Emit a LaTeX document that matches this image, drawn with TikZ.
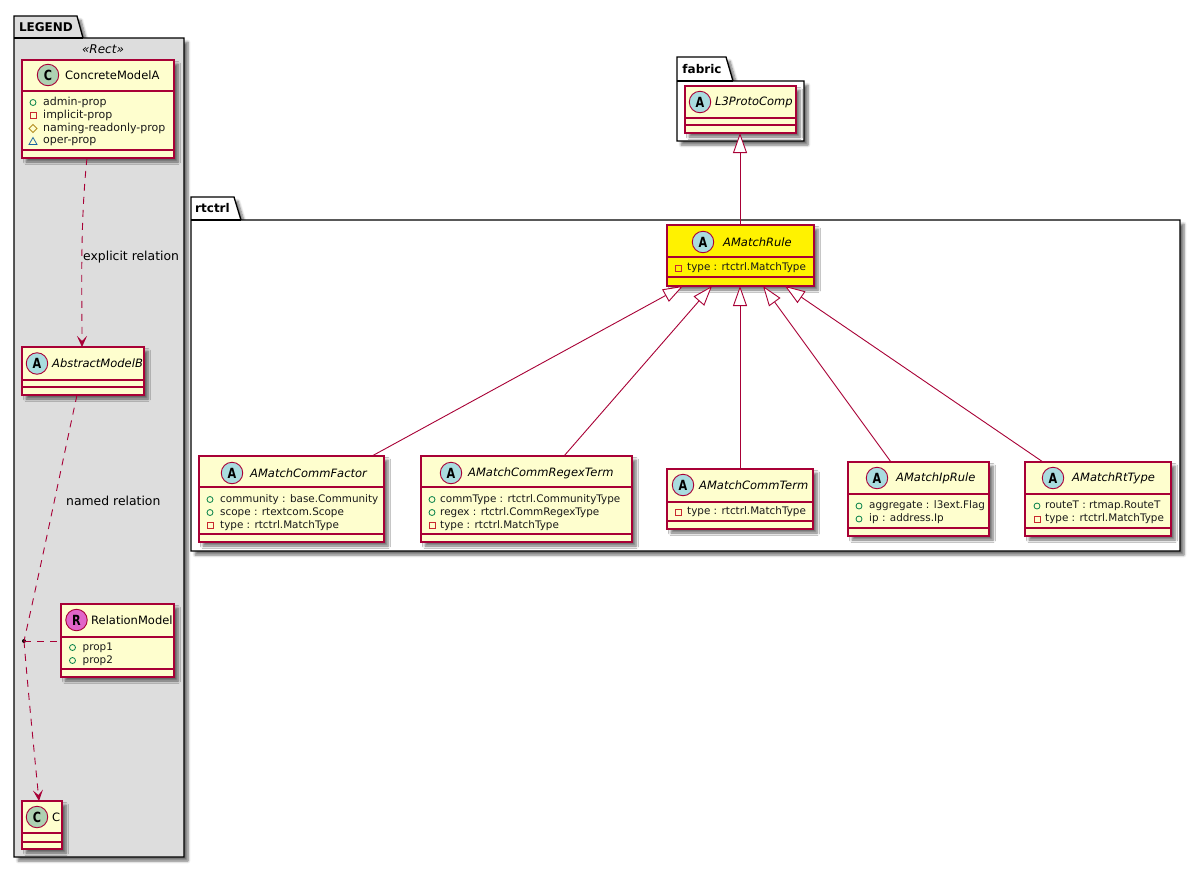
\documentclass[tikz,border=0pt]{standalone}
\usepackage{fontspec}
\setmainfont{DejaVu Sans}
\usetikzlibrary{arrows.meta,shadows.blur,calc}
\definecolor{umlred}{HTML}{A80036}
\definecolor{umlbg}{HTML}{FEFECE}
\definecolor{iconC}{HTML}{ADD1B2}
\definecolor{iconA}{HTML}{A9DCDF}
\definecolor{iconR}{HTML}{E065C8}
\definecolor{pubc}{HTML}{038048}
\definecolor{privc}{HTML}{C82930}
\definecolor{protc}{HTML}{B38D22}
\definecolor{pkgc}{HTML}{1963A0}
\newcount\attrcount
\newcommand{\wider}[1]{{\fontsize{11}{13}\selectfont #1}}
\tikzset{
  softshadow/.style={blur shadow={shadow xshift=4pt,shadow yshift=-4pt,shadow blur steps=6,shadow blur radius=2.5pt,shadow opacity=55}},
  classbox/.style={draw=umlred,line width=1.1pt,inner sep=0pt,outer sep=0pt,softshadow},
  sepline/.style={draw=umlred,line width=1.1pt},
  iconnode/.style={circle,draw=umlred,line width=.9pt,minimum size=21.5pt,inner sep=0pt,font=\fontsize{14}{14}\bfseries},
  titletext/.style={anchor=west,inner sep=0pt,font=\fontsize{11.5}{13}\selectfont},
  attrtext/.style={anchor=west,inner sep=0pt,font=\fontsize{10.4}{12}\selectfont,text=black!90},
  pkgbox/.style={draw=black,line width=1.3pt,line join=miter,softshadow},
  pkglabel/.style={inner sep=0pt,font=\fontsize{12}{14}\bfseries},
  inherit/.style={draw=umlred,line width=.9pt,-{Triangle[length=20pt,width=14pt,fill=white,line width=.9pt]}},
  relation/.style={draw=umlred,line width=.9pt,dash pattern=on 7pt off 6pt},
  dashedarrow/.style={relation,-{Stealth[length=11pt,width=10pt,inset=5pt]}},
  edgelabel/.style={anchor=west,inner sep=0pt,font=\fontsize{12.4}{14}\selectfont},
}
% #1 name, #2 x1, #3 y1, #4 x2, #5 y2, #6 fill, #7 sep1, #8 sep2
\newcommand{\classnode}[8]{%
  \pgfmathsetmacro{\cw}{#4-#2}\pgfmathsetmacro{\ch}{#5-#3}%
  \node[classbox,fill=#6,anchor=north west,minimum width=\cw pt,minimum height=\ch pt] (#1) at (#2,#3) {};
  \draw[sepline] (#2,#7) -- (#4,#7) (#2,#8) -- (#4,#8);
}
% #1 name, #2 icon x, #3 y, #4 colour, #5 letter, #6 text x, #7 text
\newcommand{\classhead}[7]{%
  \node[iconnode,fill=#4] (#1-icon) at (#2,#3) {\scalebox{.8}[1]{#5}};
  \node[titletext] (#1-title) at (#6,#3) {#7};
}
\newcommand{\iconpub}[2]{\draw[pubc,line width=.8pt] (#1,#2) circle (3pt);}
\newcommand{\iconpriv}[2]{\draw[privc,line width=.8pt] (#1-3,#2-3) rectangle (#1+3,#2+3);}
\newcommand{\iconprot}[2]{\draw[protc,line width=.8pt] (#1-4,#2) -- (#1,#2-4) -- (#1+4,#2) -- (#1,#2+4) -- cycle;}
\newcommand{\iconpkg}[2]{\draw[pkgc,line width=.8pt] (#1-4,#2+3) -- (#1+4,#2+3) -- (#1,#2-4) -- cycle;}
% #1 icon macro, #2 icon x, #3 text x, #4 y, #5 text
\newcommand{\attr}[5]{%
  #1{#2}{#4}\global\advance\attrcount by 1
  \node[attrtext] (attr\the\attrcount) at (#3,#4) {#5};
}
\begin{document}
\begin{tikzpicture}[x=1pt,y=-1pt]
\useasboundingbox (0,0) rectangle (1200,868);
% packages
\path[pkgbox,fill=black!13.5] (14,38) -- (14,16) -- (77,16) -- (83,38) -- (184,38) -- (184,857) -- (14,857) -- cycle;
\draw[black,line width=1.3pt] (14,38) -- (83,38);
\node[pkglabel] (legendlabel) at (46,27.5) {LEGEND};
\node[inner sep=0pt,font=\fontsize{12}{14}\itshape] (legendstereo) at (103,49.5) {«Rect»};
\path[pkgbox,fill=white] (677,81) -- (677,57) -- (726,57) -- (733,81) -- (804,81) -- (804,141) -- (677,141) -- cycle;
\draw[black,line width=1.3pt] (677,81) -- (733,81);
\node[pkglabel] (fabriclabel) at (702,69.5) {fabric};
\path[pkgbox,fill=white] (191,220) -- (191,197) -- (234,197) -- (241,220) -- (1180,220) -- (1180,551) -- (191,551) -- cycle;
\draw[black,line width=1.3pt] (191,220) -- (241,220);
\node[pkglabel] (rtctrllabel) at (212.5,208.5) {rtctrl};
% classes
\classnode{modela}{22}{60}{174}{158}{umlbg}{91}{150}
\classhead{modela}{48}{75}{iconC}{C}{65}{ConcreteModelA}
\attr{\iconpub}{33}{43}{102.5}{\wider{admin-prop}}
\attr{\iconpriv}{33}{43}{115.5}{\wider{implicit-prop}}
\attr{\iconprot}{33}{43}{128.5}{\wider{naming-readonly-prop}}
\attr{\iconpkg}{33}{43}{141.5}{\wider{oper-prop}}
\classnode{modelb}{22}{347}{144}{395}{umlbg}{380}{387}
\classhead{modelb}{37}{363.5}{iconA}{A}{52}{\itshape AbstractModelB}
\classnode{relmodel}{61}{604}{174}{677}{umlbg}{637}{669}
\classhead{relmodel}{76.5}{620}{iconR}{R}{91}{RelationModel}
\attr{\iconpub}{72.5}{82.5}{647.5}{prop1}
\attr{\iconpub}{72.5}{82.5}{660.5}{prop2}
\classnode{cbox}{22}{801}{62}{849}{umlbg}{833}{842}
\classhead{cbox}{37}{817}{iconC}{C}{52}{C}
\classnode{l3proto}{685}{86}{796}{133}{umlbg}{118}{125}
\classhead{l3proto}{700}{102}{iconA}{A}{715}{\itshape L3ProtoComp}
\classnode{rule}{667}{225}{814}{286}{yellow}{257}{277}
\classhead{rule}{703}{242}{iconA}{A}{723}{\itshape AMatchRule}
\attr{\iconpriv}{678}{687}{268}{type : rtctrl.MatchType}
\classnode{factor}{199}{456}{384}{542}{umlbg}{487}{534}
\classhead{factor}{232}{473}{iconA}{A}{250}{\itshape AMatchCommFactor}
\attr{\iconpub}{210}{220}{499.5}{community : base.Community}
\attr{\iconpub}{210}{220}{512.5}{scope : rtextcom.Scope}
\attr{\iconpriv}{210}{220}{525.5}{type : rtctrl.MatchType}
\classnode{regex}{421}{456}{632}{542}{umlbg}{487}{534}
\classhead{regex}{451}{473}{iconA}{A}{468}{\itshape AMatchCommRegexTerm}
\attr{\iconpub}{432}{440}{499.5}{commType : rtctrl.CommunityType}
\attr{\iconpub}{432}{440}{512.5}{regex : rtctrl.CommRegexType}
\attr{\iconpriv}{432}{440}{525.5}{type : rtctrl.MatchType}
\classnode{commterm}{667}{469}{813}{529}{umlbg}{502}{521}
\classhead{commterm}{683}{485}{iconA}{A}{699}{\itshape AMatchCommTerm}
\attr{\iconpriv}{678}{687}{512}{type : rtctrl.MatchType}
\classnode{iprule}{848}{462}{989}{536}{umlbg}{494}{528}
\classhead{iprule}{877}{478}{iconA}{A}{896}{\itshape AMatchIpRule}
\attr{\iconpub}{859}{869}{506}{aggregate : l3ext.Flag}
\attr{\iconpub}{859}{869}{519}{ip : address.Ip}
\classnode{rttype}{1025}{462}{1171}{536}{umlbg}{494}{528}
\classhead{rttype}{1053}{478}{iconA}{A}{1072}{\itshape AMatchRtType}
\attr{\iconpub}{1037}{1045}{506}{routeT : rtmap.RouteT}
\attr{\iconpriv}{1037}{1045}{519}{type : rtctrl.MatchType}
% connectors
\draw[inherit] ([xshift=73pt]rule.north west) -- ([xshift=55pt]l3proto.south west);
\draw[inherit] ([xshift=173pt]factor.north west) -- ([xshift=16pt]rule.south west);
\draw[inherit] ([xshift=143pt]regex.north west) -- ([xshift=45pt]rule.south west);
\draw[inherit] ([xshift=73pt]commterm.north west) -- ([xshift=73pt]rule.south west);
\draw[inherit] ([xshift=43pt]iprule.north west) -- ([xshift=96pt]rule.south west);
\draw[inherit] ([xshift=18pt]rttype.north west) -- ([xshift=118pt]rule.south west);
\node[circle,fill=black,minimum size=4pt,inner sep=0pt] (reldot) at (24,641) {};
\draw[dashedarrow] ([xshift=65pt]modela.south west) .. controls (80,225) and (82,290) .. ([xshift=60pt]modelb.north west);
\draw[relation] ([xshift=55pt]modelb.south west) .. controls (64,455) and (40,570) .. (reldot.center);
\draw[dashedarrow] (reldot.center) .. controls (28,690) and (34,750) .. ([xshift=17pt]cbox.north west);
\draw[relation] (reldot.center) -- (relmodel.west |- reldot);
\node[edgelabel] (explicitlabel) at (83,257) {explicit relation};
\node[edgelabel] (namedlabel) at (66,501) {named relation};
\end{tikzpicture}
\end{document}
